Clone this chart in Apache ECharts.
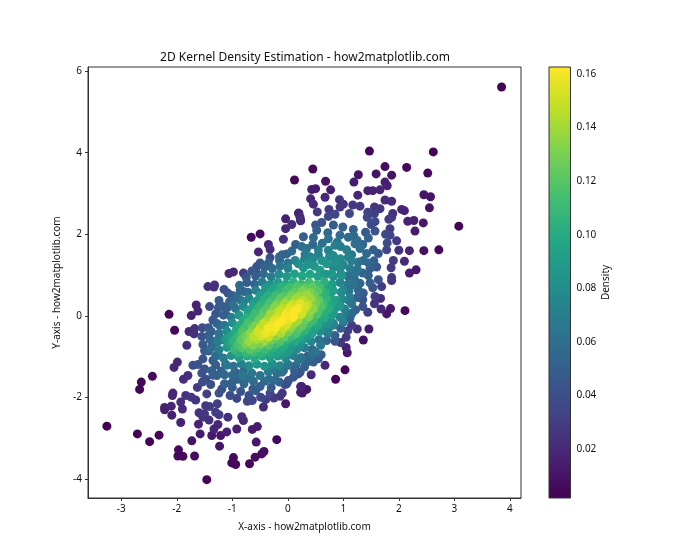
<!DOCTYPE html>
<html>
<head>
<meta charset="utf-8">
<style>html,body{margin:0;padding:0;background:#fff}#c{width:700px;height:560px}</style>
<script src="https://cdn.jsdelivr.net/npm/echarts@6/dist/echarts.min.js"></script>
</head>
<body>
<div id="c"></div>
<script>
const upperCloud = [
[3.85,5.61,.003],[1.47,4.04,.004],[2.62,4.02,.003],[.45,3.6,.005],[.12,3.33,.005],[1.75,3.66,.008],[2.14,3.64,.006],[2.52,3.5,.005],
[1.27,3.46,.011],[1.59,3.48,.011],[1.87,3.45,.011],[1.19,3.28,.014],[.68,3.3,.01],[1.75,3.28,.015],[1.79,3.19,.016],[.43,3.1,.014],
[.5,3.12,.014],[.77,3.09,.015],[1.44,3.07,.017],[1.53,3.07,.017],[1.66,3.09,.017],[2.45,2.97,.011],[2.57,2.92,.01],[1.26,2.96,.02],
[.41,2.87,.019],[.67,2.91,.02],[.93,2.85,.024],[1.75,2.84,.021],[1.87,2.81,.021],[.46,2.74,.022],[1.0,2.74,.027],[.94,2.67,.028],
[1.17,2.72,.028],[1.3,2.69,.027],[1.56,2.67,.027],[1.66,2.63,.027],[2.55,2.65,.01],[.74,2.61,.03],[2.05,2.61,.018],[2.1,2.58,.017],
[.19,2.52,.018],[.22,2.42,.021],[.23,2.33,.023],[.53,2.55,.028],[.85,2.49,.035],[.73,2.44,.036],[1.11,2.51,.036],[1.44,2.54,.033],
[1.43,2.42,.036],[1.56,2.51,.032],[1.89,2.51,.026],[1.87,2.42,.028],[1.82,2.37,.03],[1.57,2.31,.037],[1.5,2.24,.04],[2.16,2.32,.018],
[2.27,2.34,.016],[2.44,2.28,.012],[3.08,2.2,.003],[2.29,2.08,.014],[1.84,2.14,.03],[.61,2.29,.042],[.5,2.23,.044],[.82,2.23,.048],
[.99,2.18,.05],[1.18,2.12,.05],[.52,2.1,.05],[.72,2.04,.056],[1.4,2.05,.047],[1.57,2.08,.042],[1.76,2.0,.037],[1.84,1.98,.034],
[1.19,1.96,.056],[1.45,1.91,.05],[.94,1.98,.058],[1.09,1.93,.058],[.28,1.94,.05],[.46,1.92,.058],[1.96,1.84,.028],[.73,1.89,.063],
[.89,1.81,.066],[1.21,1.77,.06],[1.79,1.79,.038],[1.78,1.62,.036],[2.0,1.61,.025],[2.19,1.6,.018],[2.45,1.6,.009],[2.72,1.62,.005],
[.34,1.65,.062],[.55,1.62,.068],[.73,1.61,.072],[.85,1.73,.068],[1.06,1.62,.07],[1.3,1.65,.06],[1.54,1.62,.05],[1.63,1.53,.046],
[1.42,1.53,.058],[.31,1.51,.068],[1.9,1.36,.03],[2.1,1.34,.022],[1.86,1.18,.03],[2.31,1.13,.012],[2.19,1.05,.014],[1.87,.94,.028],
[1.63,.89,.042],[1.45,.99,.05],[1.48,1.16,.05],[1.36,1.36,.058],[1.27,1.32,.062],[1.09,1.44,.072],[.61,1.36,.083],[.82,1.48,.078],
[.7,1.28,.086],[.13,1.36,.075],[.37,1.26,.085],[.19,1.28,.08],[.94,1.16,.078],[1.12,1.16,.068],[1.21,1.04,.062],[.58,1.12,.09],
[.97,.99,.083],[.79,1.04,.088],[-.04,2.38,.016],[.07,2.24,.022],[-.04,2.14,.02],[.2,2.51,.017],[.23,2.34,.023],[-.66,1.93,.006],
[-.5,2.01,.006],[-.08,1.88,.025],[-.35,1.75,.02],[-.32,1.63,.023],[-.53,1.57,.019],[.14,1.75,.05],[.07,1.59,.056],[-.02,1.52,.052],
[-.32,1.43,.04],[-.15,1.36,.058],[-.56,1.21,.044],[-.58,1.08,.042],[-.8,1.05,.03],[-.98,1.08,.02],[-1.06,1.04,.02],
[.4,1.45,.07],[.55,1.5,.072],[.45,1.75,.058],[.62,1.78,.06],[.95,1.7,.068],[1.15,1.5,.066],[1.25,1.85,.058],[1.35,1.75,.055],[1.45,1.3,.055],
[.95,1.4,.078],[.85,1.3,.082],[.3,1.4,.072],[.0,1.3,.065],[1.0,1.25,.075],[1.25,1.15,.062],[1.35,1.05,.055],[.45,1.4,.078],[.75,1.45,.078],
[1.15,1.35,.07],[1.55,1.35,.05],[1.6,1.2,.046],[.25,1.7,.06],[-.1,1.5,.05],[-.35,1.3,.05],[-.15,1.45,.055]
];
const rightCloud = [
[2.11,.13,.006],[1.85,.18,.012],[1.78,.05,.012],[1.68,.17,.02],[1.44,.09,.032],[1.46,-.32,.014],[1.25,-.32,.024],[1.15,-.23,.03],
[1.08,-.36,.032],[1.05,-.52,.028],[.95,-.65,.027],[1.36,-.59,.009],[1.05,-.77,.018],[1.07,-.9,.012],[.85,-.48,.05],[.67,-1.21,.02],
[1.03,-1.32,.004],[.86,-1.55,.004],[.42,-1.44,.022],[.25,-1.73,.015],[.34,-1.8,.012],[.26,-1.89,.012],[1.87,.87,.024],[1.69,.72,.03],
[1.53,.69,.042],[1.57,.48,.03],[1.67,.43,.022],[1.56,.3,.026],[1.35,.4,.042],[1.35,.23,.042],[1.36,.56,.048],[1.48,.81,.05],[1.27,.63,.053],
[1.16,.07,.056],[1.06,.09,.063],[1.0,-.15,.065],[.82,-.18,.074],[.73,-.37,.072],[.59,-.72,.066],[.5,-.89,.062],[.43,-.94,.06],[.46,-1.13,.05],
[.34,-1.13,.054],[.22,-1.38,.043],[.1,-1.5,.045],[-.02,-1.66,.04],[.19,-1.09,.064],[.02,-1.21,.058],[.01,-.89,.086],[.16,-.8,.078],[-.08,-1.34,.056],
[1.15,.75,.062],[1.0,.63,.074],[1.12,.46,.068],[1.15,.3,.064],[.94,.26,.085],[.88,.38,.086],[.99,-.07,.073],
[1.2,.9,.06],[1.3,.8,.055],[1.25,.45,.052],[1.22,.15,.05],[1.12,-.05,.05],[.95,-.3,.05],[.85,-.62,.045],[.7,-.6,.055],[.6,-.95,.05],[.55,-1.05,.045],[.3,-1.25,.05],[.12,-1.35,.05]
];
const lowerCloud = [
[-1.44,.72,.024],[-1.32,.76,.023],[-1.33,.71,.024],[-1.15,.65,.04],[-1.08,.56,.044],[-.87,.75,.056],[-.92,.48,.056],[-1.65,.27,.017],
[-1.62,.12,.018],[-1.74,.01,.016],[-2.14,.04,.004],[-1.41,.23,.036],[-1.24,.38,.048],[-1.17,.23,.05],[-1.12,.05,.05],[-.98,.26,.062],[-.8,.34,.072],
[-2.04,-.35,.005],[-1.78,-.38,.02],[-1.68,-.31,.024],[-1.69,-.44,.025],[-1.54,-.29,.04],[-1.43,-.29,.045],[-1.43,-.48,.05],[-1.23,-.23,.056],
[-1.82,-.72,.023],[-1.53,-.7,.045],[-1.26,-.58,.062],[-1.35,-.68,.058],[-1.17,-.58,.068],[-1.43,-.86,.052],[-1.26,-.93,.058],[-1.35,-1.09,.05],
[-1.53,-1.05,.044],[-1.62,-1.19,.042],[-1.71,-1.21,.04],[-1.99,-1.13,.02],[-2.05,-1.26,.019],[-2.44,-1.48,.006],[-2.64,-1.62,.004],[-2.67,-1.8,.004],
[-1.8,-1.46,.024],[-1.88,-1.55,.022],[-1.37,-1.34,.05],[-1.28,-1.46,.05],[-1.48,-1.55,.04],[-1.39,-1.68,.04],[-1.54,-1.62,.038],[-1.63,-1.75,.03],
[-2.07,-1.89,.019],[-2.08,-1.95,.02],[-1.93,-2.11,.023],[-1.84,-1.95,.026],[-1.74,-1.99,.027],[-1.66,-2.06,.027],[-1.46,-1.91,.032],[-1.24,-1.89,.042],
[-1.27,-2.15,.032],[-2.1,-2.21,.018],[-2.22,-2.24,.016],[-2.22,-2.3,.016],[-1.9,-2.28,.022],[-2.09,-2.43,.016],[-1.93,-2.61,.016],[-1.48,-2.2,.028],
[-1.41,-2.22,.03],[-1.6,-2.37,.025],[-1.5,-2.4,.027],[-1.53,-2.48,.026],[-1.42,-2.55,.024],[-1.3,-2.36,.03],[-1.24,-2.42,.03],[-1.61,-2.65,.018],
[-1.08,-2.48,.024],[-1.26,-2.66,.02],[-1.33,-2.77,.018],[-1.1,-2.84,.016],[-.92,-2.77,.016],[-.83,-2.47,.022],[-.8,-2.56,.02],[-1.58,-2.89,.014],
[-1.37,-2.93,.013],[-1.21,-2.93,.012],[-1.73,-3.06,.01],[-1.23,-3.19,.011],[-3.26,-2.7,.002],[-2.71,-2.89,.003],[-2.32,-2.92,.004],[-2.49,-3.08,.003],
[-1.97,-3.28,.006],[-1.98,-3.43,.005],[-1.89,-3.44,.005],[-1.68,-3.43,.006],[-1.46,-4.01,.003],[-.98,-3.47,.006],[-1.01,-3.6,.005],[-.94,-3.64,.005],
[-.69,-3.62,.005],[-.59,-3.46,.007],[-.47,-3.38,.007],[-.43,-3.32,.008],[-.57,-3.09,.012],[-.2,-3.03,.004],[-.64,-2.78,.014],[-.55,-2.71,.014],
[-.44,-2.23,.022],[-.04,-2.15,.012],[-.73,-2.09,.036],[-.64,-2.07,.036],[-.92,-2.02,.036],[-1.04,-1.95,.04],[-1.19,-1.79,.042],[-1.14,-1.66,.05],
[-1.0,-1.62,.052],[-.79,-1.66,.056],[-.58,-1.83,.047],[-.5,-1.73,.05],[-.49,-1.99,.036],[-.4,-2.05,.03],[-.32,-1.89,.036],[-.25,-2.01,.028],
[-.14,-1.97,.026],[-.1,-1.89,.027],[-.05,-1.68,.038],[.01,-1.58,.042],[.19,-1.42,.044],[.23,-1.73,.018],[.23,-1.87,.014],
[-.34,-1.55,.06],[-.23,-1.57,.056],[-.11,-1.38,.062],[-.26,-1.27,.07],[-.5,-1.46,.064],[-.63,-1.79,.048],[-.82,-1.46,.066],
[-1.14,-1.44,.056],[-1.1,-1.21,.066],
[-1.3,-1.2,.05],[-1.2,-1.35,.052],[-1.0,-1.45,.056],[-.9,-1.55,.054],[-.7,-1.52,.06],[-.62,-1.6,.058],[-.42,-1.6,.056],[-.3,-1.75,.048],[-.15,-1.62,.05],
[-1.0,-1.75,.048],[-.85,-1.85,.044],[-.7,-1.95,.04],[-1.35,-1.45,.05],[-1.5,-1.3,.042],[-1.55,-1.4,.042],[-1.5,-.85,.048],[-1.55,-.5,.042],
[-1.3,.05,.045],[-1.25,.2,.045],[-1.35,-.1,.045],[-1.05,.35,.052],[-1.0,.5,.05],[-.8,.6,.055],[-.75,.95,.045],[-.65,1.1,.045],[-.5,1.3,.045]
];
const coreTop = [
[-.42,1.2,.052],[-.28,1.16,.058],[-.14,1.22,.065],[.0,1.17,.072],[.28,1.18,.083],[.48,1.22,.084],[.82,1.2,.072],
[-.58,.98,.05],[-.44,1.03,.058],[-.3,.96,.069],[-.16,1.02,.079],[-.02,.97,.087],[.12,1.03,.093],[.26,.98,.097],[.4,1.02,.096],[.54,.97,.093],[.68,1.02,.087],[.82,.97,.079],[.96,1.03,.069],[1.08,.98,.059],
[-.74,.82,.05],[-.6,.78,.055],[-.46,.83,.068],[-.32,.77,.08],[-.18,.82,.091],[-.04,.78,.098],[.1,.83,.105],[.24,.78,.11],[.38,.82,.114],[.52,.77,.112],[.66,.83,.102],[.8,.78,.09],[.94,.82,.075],[1.08,.78,.063],
[-.4,.7,.088],[-.26,.68,.096],[-.12,.71,.105],[.02,.69,.112],[.16,.72,.118],[.3,.68,.122],[.44,.71,.122],[.58,.69,.112],[.72,.7,.095],
[-.86,.62,.05],[-.72,.58,.057],[-.58,.63,.071],[-.44,.57,.085],[-.3,.61,.097],[-.16,.58,.106],[-.02,.62,.114],[.12,.59,.122],[.26,.62,.13],[.4,.58,.13],[.54,.61,.12],[.68,.57,.104],[.82,.62,.091],[.96,.58,.078],[1.1,.61,.063],
[-.5,.5,.09],[-.36,.49,.102],[-.22,.51,.112],[-.08,.48,.12],[.06,.51,.128],[.2,.49,.137],[.34,.52,.138],[.48,.48,.125],[.62,.51,.106],[.76,.5,.09],
[-.98,.42,.05],[-.84,.38,.06],[-.7,.43,.074],[-.56,.37,.09],[-.42,.41,.102],[-.28,.38,.113],[-.14,.42,.122],[.0,.39,.132],[.14,.41,.14],[.28,.38,.145],[.42,.42,.138],[.56,.38,.122],[.7,.42,.106],[.84,.37,.092],[.98,.41,.077],[1.1,.38,.063]
];
const coreMiddle = [
[-.62,.3,.092],[-.48,.29,.104],[-.34,.31,.115],[-.2,.28,.13],[-.06,.31,.14],[.08,.29,.15],[.22,.31,.155],[.36,.28,.146],[.5,.31,.128],[.64,.29,.11],[.78,.3,.095],
[-1.08,.22,.05],[-.94,.18,.062],[-.8,.23,.078],[-.66,.17,.094],[-.52,.21,.108],[-.38,.18,.12],[-.24,.22,.133],[-.1,.19,.146],[.04,.21,.155],[.18,.18,.16],[.32,.22,.152],[.46,.18,.135],[.6,.22,.118],[.74,.18,.102],[.88,.21,.088],[1.02,.17,.071],
[-.72,.1,.095],[-.58,.09,.108],[-.44,.11,.12],[-.3,.08,.135],[-.16,.11,.148],[-.02,.09,.158],[.12,.11,.162],[.26,.09,.152],[.4,.1,.135],[.54,.08,.118],[.68,.11,.102],[.82,.09,.088],
[-1.16,.02,.05],[-1.02,-.03,.068],[-.88,.02,.084],[-.74,-.04,.102],[-.6,.03,.112],[-.46,-.02,.125],[-.32,.03,.14],[-.18,-.02,.152],[-.04,.02,.161],[.1,-.03,.163],[.24,.03,.15],[.38,-.02,.132],[.52,.03,.116],[.66,-.04,.1],[.8,.02,.09],[.94,-.03,.073],
[-.8,-.1,.098],[-.66,-.11,.112],[-.52,-.09,.125],[-.38,-.11,.142],[-.24,-.09,.155],[-.1,-.11,.162],[.04,-.09,.156],[.18,-.11,.14],[.32,-.09,.125],[.46,-.11,.11],[.6,-.09,.095],[.74,-.11,.083],
[-1.28,-.18,.052],[-1.14,-.23,.064],[-1.0,-.17,.082],[-.86,-.22,.1],[-.72,-.18,.116],[-.58,-.23,.13],[-.44,-.18,.148],[-.3,-.22,.158],[-.16,-.18,.162],[-.02,-.22,.152],[.12,-.18,.138],[.26,-.23,.124],[.4,-.17,.11],[.54,-.22,.098],[.68,-.18,.085],[.82,-.23,.074],
[-.92,-.3,.094],[-.78,-.29,.112],[-.64,-.31,.128],[-.5,-.29,.148],[-.36,-.31,.16],[-.22,-.29,.16],[-.08,-.31,.148],[.06,-.29,.135],[.2,-.31,.12],[.34,-.29,.106],[.48,-.31,.092],[.62,-.29,.078]
];
const coreBottom = [
[-1.38,-.38,.05],[-1.24,-.43,.064],[-1.1,-.37,.08],[-.96,-.42,.1],[-.82,-.38,.118],[-.68,-.43,.135],[-.54,-.38,.152],[-.4,-.42,.158],[-.26,-.38,.155],[-.12,-.42,.142],[.02,-.38,.128],[.16,-.43,.116],[.3,-.37,.104],[.44,-.42,.092],[.58,-.38,.08],[.72,-.43,.068],
[-1.04,-.5,.092],[-.9,-.51,.11],[-.76,-.49,.128],[-.62,-.51,.145],[-.48,-.49,.152],[-.34,-.51,.148],[-.2,-.49,.135],[-.06,-.51,.122],[.08,-.49,.11],[.22,-.51,.098],[.36,-.5,.088],
[-1.4,-.58,.055],[-1.26,-.63,.068],[-1.12,-.57,.088],[-.98,-.62,.105],[-.84,-.58,.122],[-.7,-.63,.138],[-.56,-.58,.142],[-.42,-.62,.138],[-.28,-.58,.128],[-.14,-.63,.118],[.0,-.57,.108],[.14,-.62,.098],[.28,-.58,.088],[.42,-.62,.076],[.56,-.58,.063],
[-1.04,-.7,.095],[-.9,-.71,.115],[-.76,-.69,.128],[-.62,-.71,.132],[-.48,-.69,.128],[-.34,-.71,.12],[-.2,-.69,.11],[-.06,-.71,.1],[.08,-.69,.09],[.22,-.71,.08],
[-1.38,-.78,.057],[-1.24,-.83,.07],[-1.1,-.77,.088],[-.96,-.82,.108],[-.82,-.78,.118],[-.68,-.83,.12],[-.54,-.78,.118],[-.4,-.82,.11],[-.26,-.78,.104],[-.12,-.83,.096],[.02,-.77,.088],[.16,-.82,.078],[.3,-.78,.069],[.44,-.82,.056],
[-.9,-.9,.102],[-.76,-.91,.108],[-.62,-.89,.11],[-.48,-.91,.106],[-.34,-.89,.1],[-.2,-.91,.094],[-.06,-.9,.088],
[-1.3,-.98,.057],[-1.16,-1.03,.068],[-1.02,-.97,.084],[-.88,-1.02,.092],[-.74,-.98,.098],[-.6,-1.03,.1],[-.46,-.98,.098],[-.32,-1.02,.092],[-.18,-.98,.086],[-.04,-1.03,.078],[.1,-.97,.07],[.24,-1.02,.062],[.36,-.98,.05],
[-1.12,-1.18,.055],[-.98,-1.23,.062],[-.84,-1.17,.072],[-.7,-1.22,.08],[-.56,-1.18,.084],[-.42,-1.23,.084],[-.28,-1.17,.08],[-.14,-1.22,.074],[.0,-1.18,.066],[.14,-1.22,.055],
[-.95,-1.38,.05],[-.8,-1.35,.058],[-.65,-1.4,.066],[-.35,-1.37,.068],[-.2,-1.4,.06]
];
const xTicks = [-3,-2,-1,0,1,2,3,4];
const yTicks = [-4,-2,0,2,4,6];
const barTicks = [.02,.04,.06,.08,.10,.12,.14,.16];
const viridisStops = ['#440154','#482475','#414487','#355f8d','#2a788e','#21918c','#22a884','#44bf70','#7ad151','#bddf26','#fde725'];
const densityMin = 0.0018, densityMax = 0.1626;

const allPoints = [...upperCloud, ...rightCloud, ...lowerCloud, ...coreTop, ...coreMiddle, ...coreBottom]
  .slice().sort((a,b)=>a[2]-b[2]);

const font = 'Noto Sans';
const ink = '#111';
const lineInk = '#333';
const chart = echarts.init(document.getElementById('c'), null, {renderer:'canvas'});
chart.setOption({
  animation:false,
  backgroundColor:'#fff',
  textStyle:{fontFamily:font,color:ink},
  title:{text:'2D Kernel Density Estimation - how2matplotlib.com',left:300,top:47,textAlign:'center',
    textStyle:{fontFamily:font,fontSize:12,fontWeight:'normal',color:ink}},
  grid:[
    {left:88,top:67,width:433,height:431,show:true,borderColor:lineInk,borderWidth:1,backgroundColor:'#fff'},
    {left:549,top:67,width:21.5,height:431,show:false}
  ],
  xAxis:[
    {type:'value',gridIndex:0,min:-3.6,max:4.2,name:'X-axis - how2matplotlib.com',nameLocation:'middle',nameGap:24,
     nameTextStyle:{fontFamily:font,fontSize:10,color:ink},splitLine:{show:false},
     axisLine:{show:true,onZero:false,lineStyle:{color:lineInk}},
     axisTick:{show:true,length:3,customValues:xTicks,lineStyle:{color:lineInk}},
     axisLabel:{fontFamily:font,fontSize:10,color:ink,margin:6,customValues:xTicks,formatter:v=>String(v)}},
    {type:'value',gridIndex:1,min:0,max:1,show:false}
  ],
  yAxis:[
    {type:'value',gridIndex:0,min:-4.46,max:6.1,name:'Y-axis - how2matplotlib.com',nameLocation:'middle',nameGap:22,nameRotate:90,
     nameTextStyle:{fontFamily:font,fontSize:10,color:ink},splitLine:{show:false},
     axisLine:{show:true,onZero:false,lineStyle:{color:lineInk}},
     axisTick:{show:true,length:3,customValues:yTicks,lineStyle:{color:lineInk}},
     axisLabel:{fontFamily:font,fontSize:10,color:ink,margin:6,customValues:yTicks,formatter:v=>String(v)}},
    {type:'value',gridIndex:1,position:'right',min:densityMin,max:densityMax,name:'Density',nameLocation:'middle',nameGap:31,nameRotate:90,
     nameTextStyle:{fontFamily:font,fontSize:10,color:ink},splitLine:{show:false},
     axisLine:{show:false},
     axisTick:{show:true,length:3,customValues:barTicks,lineStyle:{color:lineInk}},
     axisLabel:{fontFamily:font,fontSize:10,color:ink,margin:6,customValues:barTicks,formatter:v=>v.toFixed(2)}}
  ],
  visualMap:{show:false,type:'continuous',seriesIndex:0,dimension:2,min:densityMin,max:densityMax,
    inRange:{color:viridisStops}},
  series:[
    {type:'scatter',xAxisIndex:0,yAxisIndex:0,data:allPoints,symbol:'circle',symbolSize:9,
     itemStyle:{opacity:1},emphasis:{disabled:true}},
    {type:'custom',xAxisIndex:1,yAxisIndex:1,clip:false,silent:true,data:[[0,densityMin,1,densityMax]],
     encode:{x:[0,2],y:[1,3]},
     renderItem:(params,api)=>{
       const a = api.coord([api.value(0),api.value(1)]);
       const b = api.coord([api.value(2),api.value(3)]);
       const n = viridisStops.length-1;
       return {type:'rect',shape:{x:a[0],y:b[1],width:b[0]-a[0],height:a[1]-b[1]},
         style:{stroke:lineInk,lineWidth:1,
           fill:new echarts.graphic.LinearGradient(0,1,0,0,viridisStops.map((c,i)=>({offset:i/n,color:c})))}};
     }}
  ]
});
</script>
</body>
</html>
